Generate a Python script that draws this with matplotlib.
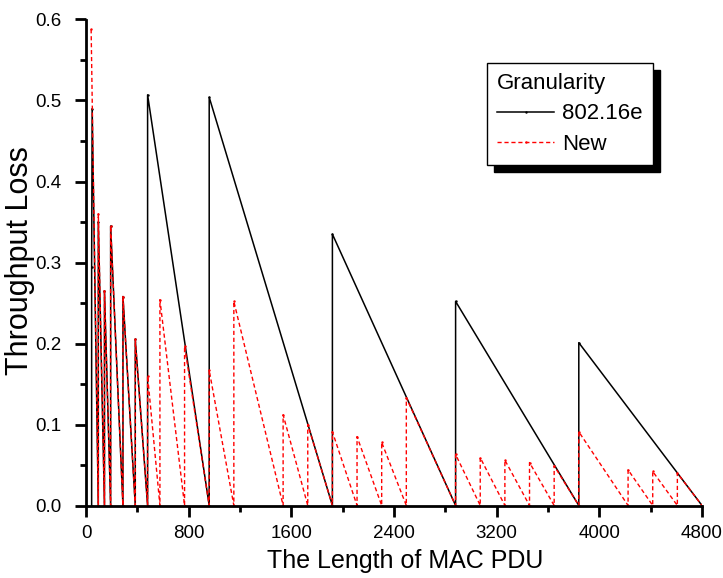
import matplotlib.pyplot as plt
from matplotlib.patches import Rectangle
from matplotlib.ticker import MultipleLocator

plt.rcParams['font.family'] = ['Liberation Sans', 'DejaVu Sans']

# sawtooth vertices (length of MAC PDU, throughput loss)
old_x = [44, 44, 48, 96, 96, 144, 144, 192, 192, 288, 288, 384, 384, 480,
         480, 960, 960, 1920, 1920, 2880, 2880, 3840, 3840, 4800]
old_y = [0.0, 0.295, 0.49, 0.0, 0.35, 0.0, 0.265, 0.0, 0.345, 0.0, 0.258, 0.0, 0.205, 0.0,
         0.507, 0.0, 0.504, 0.0, 0.335, 0.0, 0.252, 0.0, 0.201, 0.0]

new_x = [40, 96, 96, 144, 144, 192, 192, 288, 288, 384, 384, 480,
         480, 576, 576, 768, 768, 960, 960, 1152, 1152, 1536, 1536, 1728,
         1728, 1920, 1920, 2112, 2112, 2304, 2304, 2496, 2496, 2880,
         2880, 3072, 3072, 3264, 3264, 3456, 3456, 3648, 3648, 3840,
         3840, 4224, 4224, 4416, 4416, 4608, 4608, 4800]
new_y = [0.588, 0.0, 0.36, 0.0, 0.265, 0.0, 0.345, 0.0, 0.258, 0.0, 0.205, 0.0,
         0.16, 0.0, 0.254, 0.0, 0.197, 0.0, 0.167, 0.0, 0.252, 0.0, 0.112, 0.0,
         0.1, 0.0, 0.091, 0.0, 0.085, 0.0, 0.078, 0.0, 0.133, 0.0,
         0.063, 0.0, 0.059, 0.0, 0.056, 0.0, 0.053, 0.0, 0.049, 0.0,
         0.091, 0.0, 0.044, 0.0, 0.042, 0.0, 0.04, 0.0]

fig = plt.figure(figsize=(7.23, 5.78), dpi=100)
ax = fig.add_axes([86 / 723, 1 - 505.5 / 578, 616 / 723, 486 / 578])

ax.plot(old_x, old_y, color='black', lw=1.1, marker='.', ms=1.5, label='802.16e')
ax.plot(new_x, new_y, color='red', lw=1, ls=(0, (3, 2)), marker='.', ms=1.5, label='New')

ax.set_xlim(0, 4800)
ax.set_ylim(0, 0.6)
ax.xaxis.set_major_locator(MultipleLocator(800))
ax.xaxis.set_minor_locator(MultipleLocator(400))
ax.yaxis.set_major_locator(MultipleLocator(0.1))
ax.yaxis.set_minor_locator(MultipleLocator(0.05))
ax.yaxis.set_major_formatter(plt.FormatStrFormatter('%.1f'))

for s in ['top', 'right']:
    ax.spines[s].set_visible(False)
for s in ['left', 'bottom']:
    ax.spines[s].set_linewidth(2)
ax.tick_params(which='major', length=8, width=2, labelsize=13.5)
ax.tick_params(which='minor', length=4, width=2)
ax.tick_params(axis='x', pad=6)
ax.tick_params(axis='y', pad=10)

ax.set_xlabel('The Length of MAC PDU', fontsize=18)
ax.xaxis.set_label_coords(0.518, -0.09)
ax.set_ylabel('Throughput Loss', fontsize=22)
ax.yaxis.set_label_coords(-0.083, 0.505)

leg = ax.legend(title='Granularity', loc='upper left', bbox_to_anchor=(0.651, 0.9105),
                borderaxespad=0, fontsize=16, title_fontsize=16, numpoints=1,
                handlelength=2.57, handletextpad=0.36, labelspacing=0.42,
                fancybox=False, framealpha=1, edgecolor='black', alignment='left',
                borderpad=0.45)
leg.get_frame().set_linewidth(1)

fig.canvas.draw()
bb = leg.get_frame().get_window_extent()
inv = ax.transAxes.inverted()
(x0, y0), (x1, y1) = inv.transform([(bb.x0 + 7, bb.y0 - 7), (bb.x1 + 7, bb.y1 - 7)])
ax.add_patch(Rectangle((x0, y0), x1 - x0, y1 - y0, transform=ax.transAxes,
                       color='black', zorder=4.9, clip_on=False))

fig.savefig('out.png', dpi=100)
